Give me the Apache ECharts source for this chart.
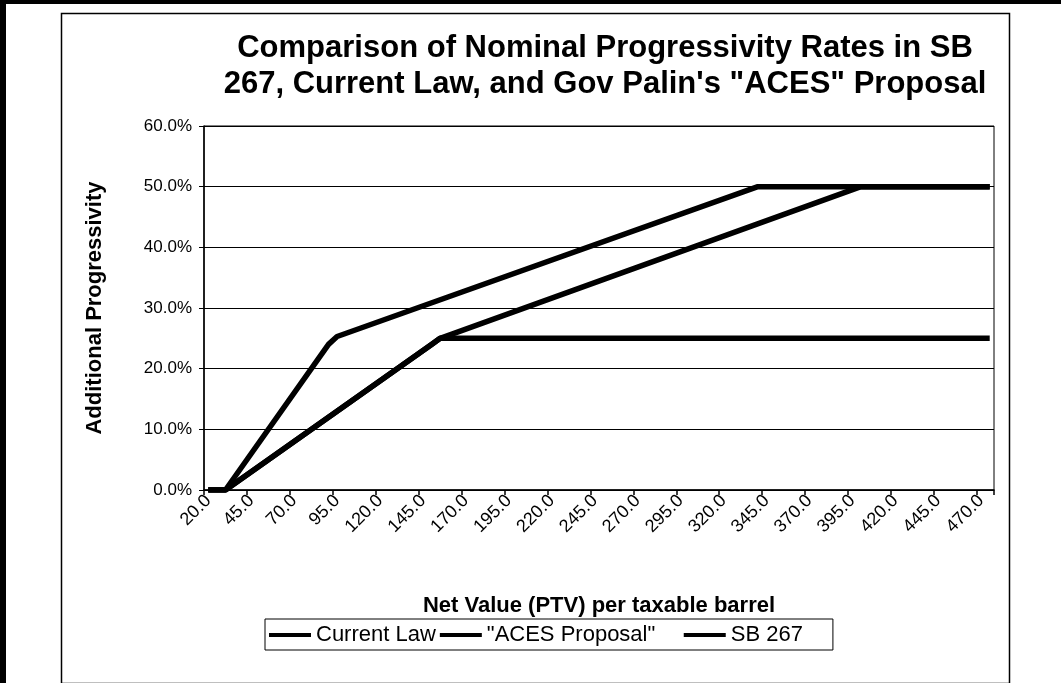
<!DOCTYPE html>
<html>
<head>
<meta charset="utf-8">
<script src="https://cdn.jsdelivr.net/npm/echarts@6/dist/echarts.min.js"></script>
<style>
  html, body { margin: 0; padding: 0; background: #fff; }
  #chart { width: 1061px; height: 683px; }
</style>
</head>
<body>
<div id="chart"></div>
<script>
// Net value per taxable barrel, in $5 steps
const categories = [
  '20.0','25.0','30.0','35.0','40.0','45.0','50.0','55.0','60.0','65.0',
  '70.0','75.0','80.0','85.0','90.0','95.0','100.0','105.0','110.0','115.0',
  '120.0','125.0','130.0','135.0','140.0','145.0','150.0','155.0','160.0','165.0',
  '170.0','175.0','180.0','185.0','190.0','195.0','200.0','205.0','210.0','215.0',
  '220.0','225.0','230.0','235.0','240.0','245.0','250.0','255.0','260.0','265.0',
  '270.0','275.0','280.0','285.0','290.0','295.0','300.0','305.0','310.0','315.0',
  '320.0','325.0','330.0','335.0','340.0','345.0','350.0','355.0','360.0','365.0',
  '370.0','375.0','380.0','385.0','390.0','395.0','400.0','405.0','410.0','415.0',
  '420.0','425.0','430.0','435.0','440.0','445.0','450.0','455.0','460.0','465.0',
  '470.0','475.0'
];

// Break points of each schedule (net value, additional progressivity in %)
const currentLawX = ['20.0', '30.0', '150.0', '155.0', '475.0'];
const currentLawY = [0, 0, 24, 25, 25];

const acesX = ['20.0', '30.0', '90.0', '95.0', '340.0', '475.0'];
const acesY = [0, 0, 24, 25.3, 50, 50];

const sb267X = ['20.0', '30.0', '150.0', '155.0', '400.0', '475.0'];
const sb267Y = [0, 0, 24, 25, 50, 50];

const yTicks = [0, 10, 20, 30, 40, 50, 60];

const FONT = "'Liberation Sans', Arial, sans-serif";

function pairs(xs, ys) {
  return xs.map((x, i) => [x, ys[i]]);
}

function lineSeries(name, xs, ys) {
  return {
    name: name,
    type: 'line',
    data: pairs(xs, ys),
    symbol: 'none',
    lineStyle: { color: '#000', width: 5.5 },
    itemStyle: { color: '#000' },
    emphasis: { disabled: true },
    animation: false
  };
}

const chart = echarts.init(document.getElementById('chart'), null, { renderer: 'canvas' });

chart.setOption({
  backgroundColor: '#fff',
  animation: false,
  textStyle: { fontFamily: FONT, color: '#000' },
  graphic: [
    // scanned page edges
    { type: 'rect', left: 0, top: 0, shape: { width: 6, height: 683 }, style: { fill: '#000' }, silent: true },
    { type: 'rect', left: 0, top: 0, shape: { width: 1061, height: 4 }, style: { fill: '#000' }, silent: true },
    // chart frame
    { type: 'rect', left: 59, top: 11, shape: { width: 948, height: 670 },
      style: { fill: null, stroke: '#000', lineWidth: 1.5 }, silent: true }
  ],
  title: {
    text: 'Comparison of Nominal Progressivity Rates in SB\n267, Current Law, and Gov Palin\'s "ACES" Proposal',
    left: 600,
    top: 25,
    textAlign: 'center',
    textStyle: { fontFamily: FONT, fontWeight: 'bold', fontSize: 31, lineHeight: 36, color: '#000' }
  },
  legend: {
    left: 265,
    top: 619,
    orient: 'horizontal',
    icon: 'rect',
    itemWidth: 42,
    itemHeight: 4,
    itemGap: 4,
    padding: [5, 30, 4, 4],
    borderColor: '#000',
    borderWidth: 1,
    // the middle entry is followed by a wider gap
    formatter: (name) => (name === '"ACES Proposal"' ? name + '    ' : name),
    textStyle: { fontFamily: FONT, fontSize: 22, color: '#000' },
    data: ['Current Law', '"ACES Proposal"', 'SB 267']
  },
  grid: {
    left: 204,
    right: 67,
    top: 126,
    bottom: 193,
    show: true,
    borderColor: '#000',
    borderWidth: 1,
    backgroundColor: 'transparent'
  },
  xAxis: {
    type: 'category',
    data: categories,
    boundaryGap: true,
    name: 'Net Value (PTV) per taxable barrel',
    nameLocation: 'middle',
    nameGap: 105,
    nameTextStyle: { fontFamily: FONT, fontWeight: 'bold', fontSize: 22, color: '#000' },
    axisLine: { show: true, lineStyle: { color: '#000', width: 1.5 } },
    axisTick: { show: true, interval: 4, length: 5, lineStyle: { color: '#000', width: 1.5 } },
    axisLabel: {
      interval: 4,
      rotate: 45,
      margin: 8,
      fontFamily: FONT,
      fontSize: 18,
      color: '#000'
    },
    splitLine: { show: false }
  },
  yAxis: {
    type: 'value',
    min: 0,
    max: 60,
    interval: 10,
    name: 'Additional Progressivity',
    nameLocation: 'middle',
    nameGap: 98,
    nameRotate: 90,
    nameTextStyle: { fontFamily: FONT, fontWeight: 'bold', fontSize: 22, color: '#000' },
    axisLine: { show: true, lineStyle: { color: '#000', width: 1.5 } },
    axisTick: { show: true, length: 5, lineStyle: { color: '#000', width: 1 } },
    axisLabel: {
      margin: 12,
      fontFamily: FONT,
      fontSize: 17,
      color: '#000',
      formatter: (v) => (yTicks.indexOf(v) >= 0 ? v.toFixed(1) + '%' : '')
    },
    splitLine: { show: true, lineStyle: { color: '#000', width: 1 } }
  },
  series: [
    lineSeries('Current Law', currentLawX, currentLawY),
    lineSeries('"ACES Proposal"', acesX, acesY),
    lineSeries('SB 267', sb267X, sb267Y)
  ]
});
</script>
</body>
</html>
